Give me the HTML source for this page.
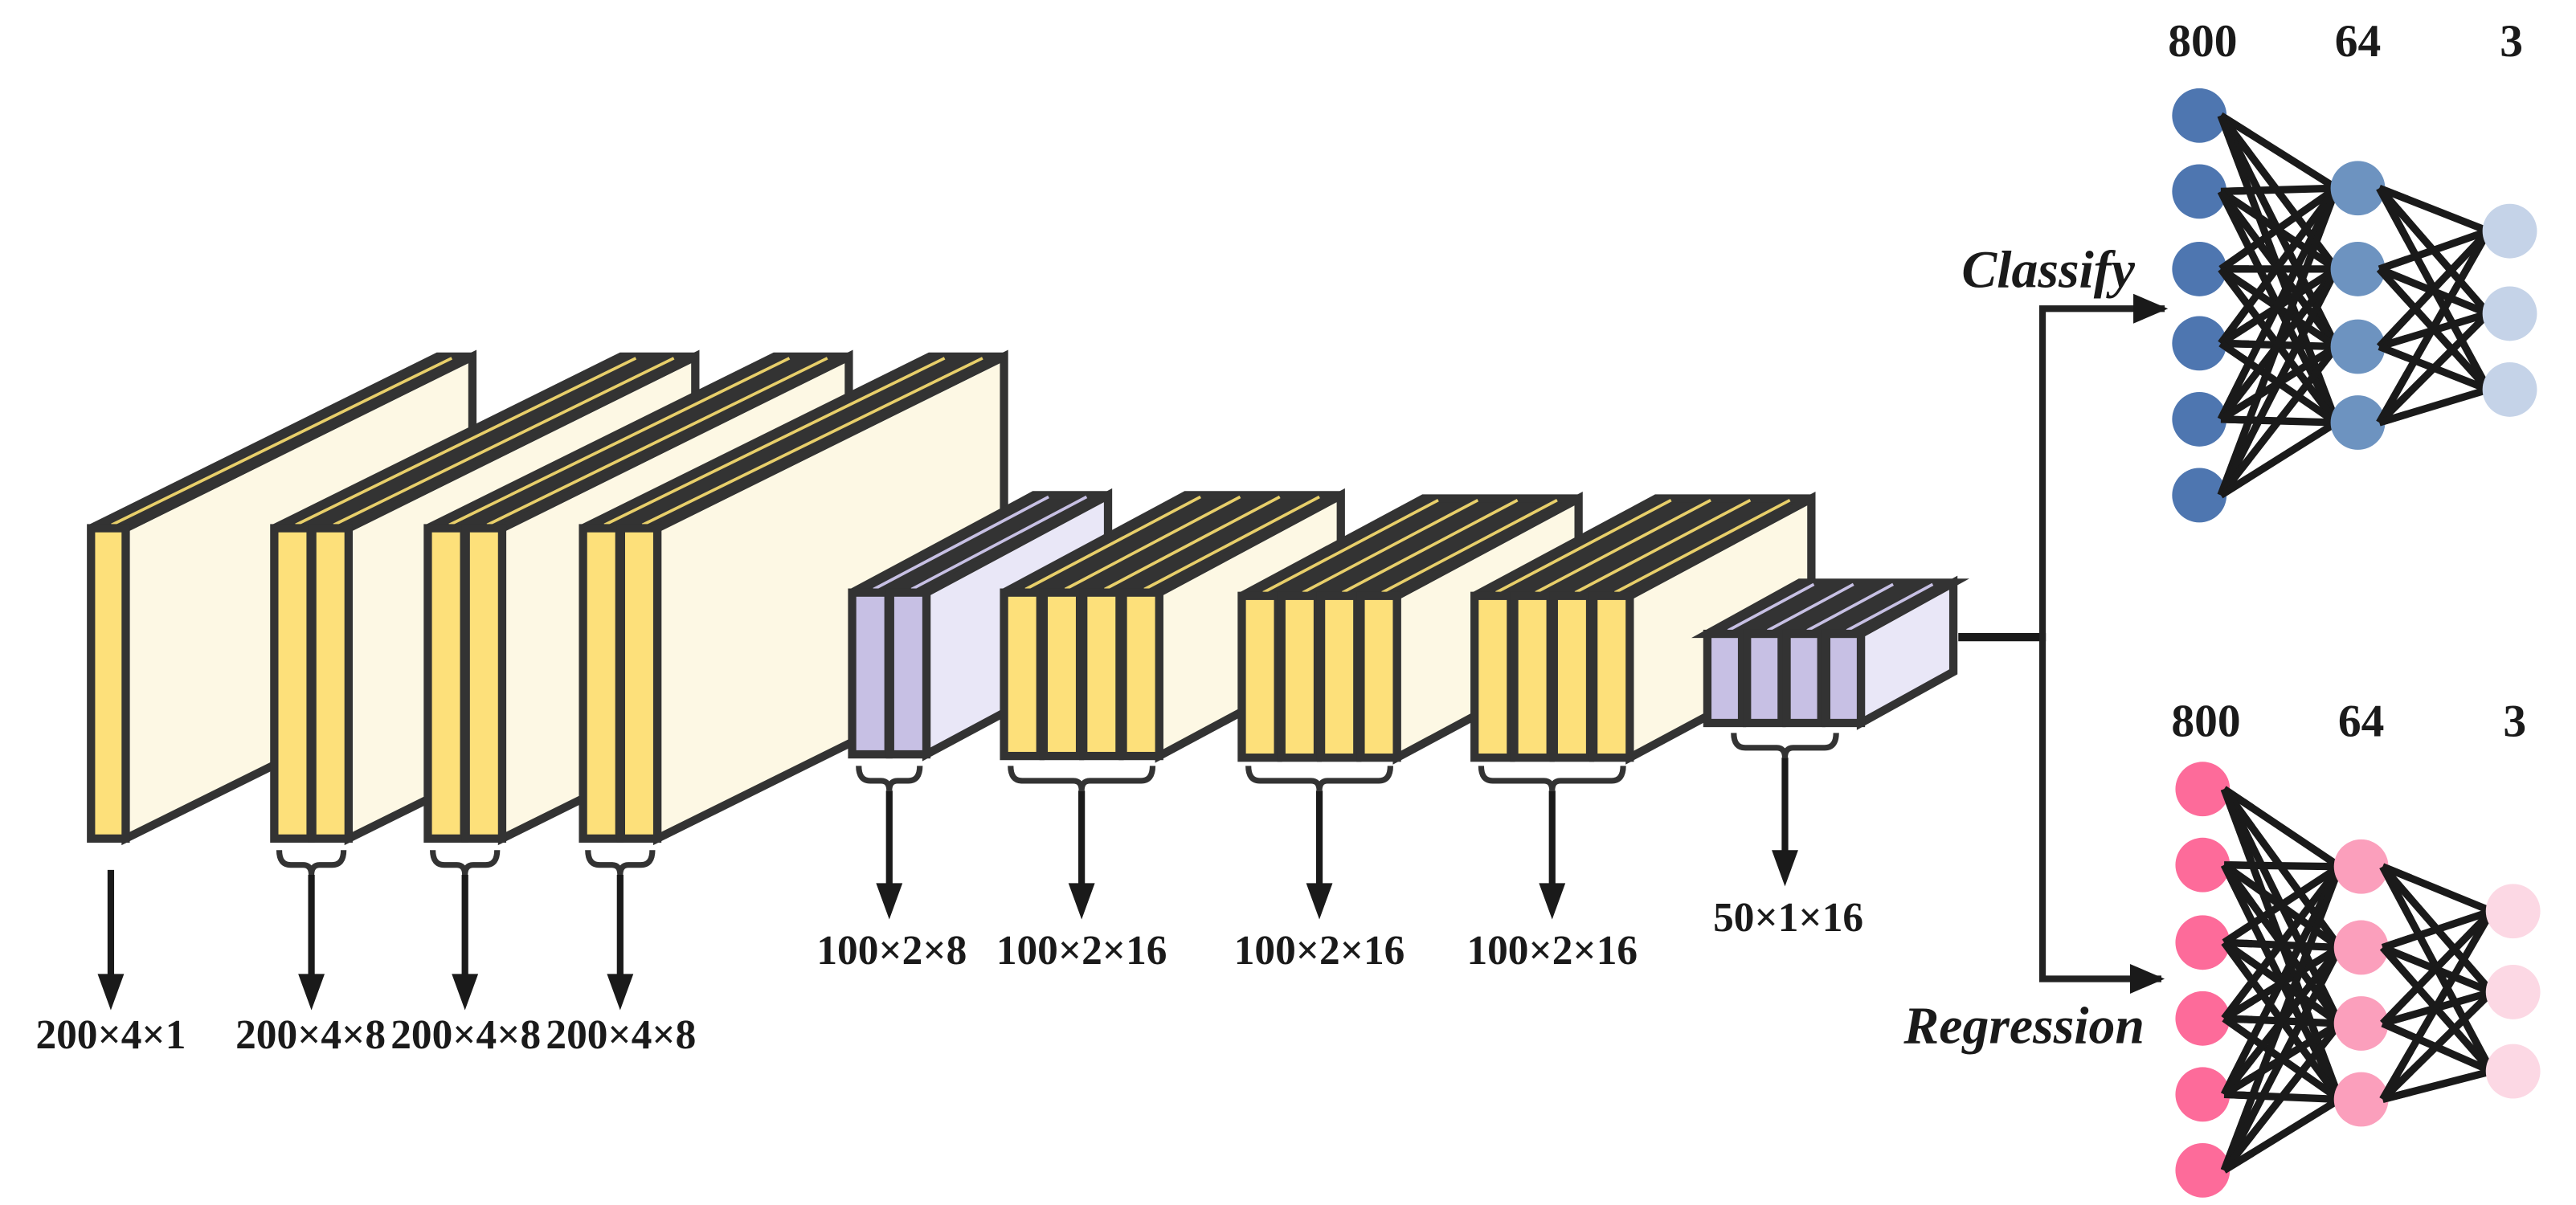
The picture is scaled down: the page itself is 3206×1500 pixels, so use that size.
<!DOCTYPE html>
<html><head><meta charset="utf-8"><style>
html,body{margin:0;padding:0;background:#fff;}
svg{display:block;}
text{font-family:"Liberation Serif",serif;font-weight:bold;fill:#1a1a1a;}
</style></head><body>
<svg id="s" width="3206" height="1500" viewBox="0 0 1560 730" xmlns="http://www.w3.org/2000/svg">
<g id="g"></g>
<g font-size="25" text-anchor="middle">
<text x="67" y="635">200×4×1</text>
<text x="188" y="635">200×4×8</text>
<text x="282" y="635">200×4×8</text>
<text x="376" y="635">200×4×8</text>
<text x="540" y="584">100×2×8</text>
<text x="655" y="584">100×2×16</text>
<text x="799" y="584">100×2×16</text>
<text x="940" y="584">100×2×16</text>
<text x="1083" y="564">50×1×16</text>
</g>
<g font-size="28" text-anchor="middle">
<text x="1334" y="34">800</text><text x="1428" y="34">64</text><text x="1521" y="34">3</text>
<text x="1336" y="446">800</text><text x="1430" y="446">64</text><text x="1523" y="446">3</text>
</g>
<text x="1188" y="174" font-size="32" font-style="italic">Classify</text>
<text x="1153" y="632" font-size="32" font-style="italic">Regression</text>
</svg>
<script>
var g=document.getElementById('g'),NS='http://www.w3.org/2000/svg';
function el(t,a){var e=document.createElementNS(NS,t);for(var k in a)e.setAttribute(k,a[k]);g.appendChild(e);return e;}
var D='#333';
function block(x0,y0,h,n,p,w,dx,dy,fc,sc,lc){
 var r=x0+(n-1)*p+w;
 el('polygon',{points:[r,y0,r+dx,y0-dy,r+dx,y0+h-dy,r,y0+h].join(' '),fill:sc,stroke:D,'stroke-width':5,'stroke-linejoin':'miter'});
 el('polygon',{points:[x0,y0,x0+dx,y0-dy,r+dx,y0-dy,r,y0].join(' '),fill:D,stroke:D,'stroke-width':5});
 for(var i=0;i<n;i++){var xc=x0+i*p+w/2+2;el('line',{x1:xc,y1:y0-2,x2:xc+dx-4,y2:y0-dy+1,stroke:lc,'stroke-width':1.8});}
 for(var i=0;i<n;i++){el('rect',{x:x0+i*p,y:y0,width:w,height:h,fill:fc,stroke:D,'stroke-width':5});}
}
var Y='#fde07a',YS='#fdf8e4',YL='#e8cf6a',P='#c7c0e4',PS='#e9e7f7',PL='#c7c0e4';
block(55,320,188,1,0,21,210,104,Y,YS,YL);
block(166,320,188,2,23,22,210,104,Y,YS,YL);
block(259,320,188,2,23,22,210,104,Y,YS,YL);
block(353,320,188,2,23,22,210,104,Y,YS,YL);
block(516,359,98,2,23,22,110,59,P,PS,PL);
block(608,359,99,4,24,22,110,59,Y,YS,YL);
block(752,361,98,4,24,22,110,59,Y,YS,YL);
block(893,361,98,4,24,22,110,59,Y,YS,YL);
block(1034,384,54,4,24,21,56,31,P,PS,PL);
function arrow(x,y1,y2){el('line',{x1:x,y1:y1,x2:x,y2:y2-18,stroke:'#1a1a1a','stroke-width':4});
 el('polygon',{points:[x-8,y2-22,x+8,y2-22,x,y2].join(' '),fill:'#1a1a1a'});}
function brace(x1,x2,y){var xc=(x1+x2)/2;
 el('path',{d:'M'+x1+' '+y+' Q'+x1+' '+(y+9)+' '+(x1+7)+' '+(y+9)+' L'+(xc-5)+' '+(y+9)+' Q'+xc+' '+(y+9)+' '+xc+' '+(y+15)+' Q'+xc+' '+(y+9)+' '+(xc+5)+' '+(y+9)+' L'+(x2-7)+' '+(y+9)+' Q'+x2+' '+(y+9)+' '+x2+' '+y,fill:'none',stroke:D,'stroke-width':3.5});
 return xc;}
arrow(67,527,612);
[[166,211],[259,304],[353,398]].forEach(function(b){var c=brace(b[0]+3,b[1]-3,515);arrow(c,530,612);});
[[516,561],[608,702],[752,846],[893,987]].forEach(function(b){var c=brace(b[0]+4,b[1]-4,464);arrow(c,479,557);});
var c9=brace(1050,1112,444);arrow(c9,459,537);
el('polyline',{points:'1186,386 1239,386',fill:'none',stroke:'#1a1a1a','stroke-width':5});
el('polyline',{points:'1311,187 1237,187 1237,593 1309,593',fill:'none',stroke:'#222','stroke-width':4});
el('polygon',{points:'1292,178 1292,196 1313,187',fill:'#1a1a1a'});
el('polygon',{points:'1290,584 1290,602 1311,593',fill:'#1a1a1a'});
function net(xs,ys,cols){
 for(var l=0;l<2;l++)for(var i=0;i<ys[l].length;i++)for(var j=0;j<ys[l+1].length;j++)
  el('line',{x1:xs[l]+13,y1:ys[l][i],x2:xs[l+1]-13,y2:ys[l+1][j],stroke:'#1a1a1a','stroke-width':4.5});
 for(var l=0;l<3;l++)for(var i=0;i<ys[l].length;i++)el('circle',{cx:xs[l],cy:ys[l][i],r:16.5,fill:cols[l]});
 for(var l=0;l<2;l++)for(var i=0;i<ys[l].length;i++)for(var j=0;j<ys[l+1].length;j++)
  el('line',{x1:xs[l]+13,y1:ys[l][i],x2:xs[l]+30,y2:ys[l][i]+(ys[l+1][j]-ys[l][i])*17/(xs[l+1]-xs[l]-26),stroke:'#1a1a1a','stroke-width':4.5});
}
net([1332,1428,1520],[[70,116,163,208,254,300],[114,163,210,256],[140,190,236]],['#4e76b0','#6d93c0','#c5d3e8']);
net([1334,1430,1522],[[478,524,571,617,663,709],[525,574,620,666],[552,601,649]],['#fd6b9a','#fb9fbc','#fcd8e4']);
</script>
</body></html>
